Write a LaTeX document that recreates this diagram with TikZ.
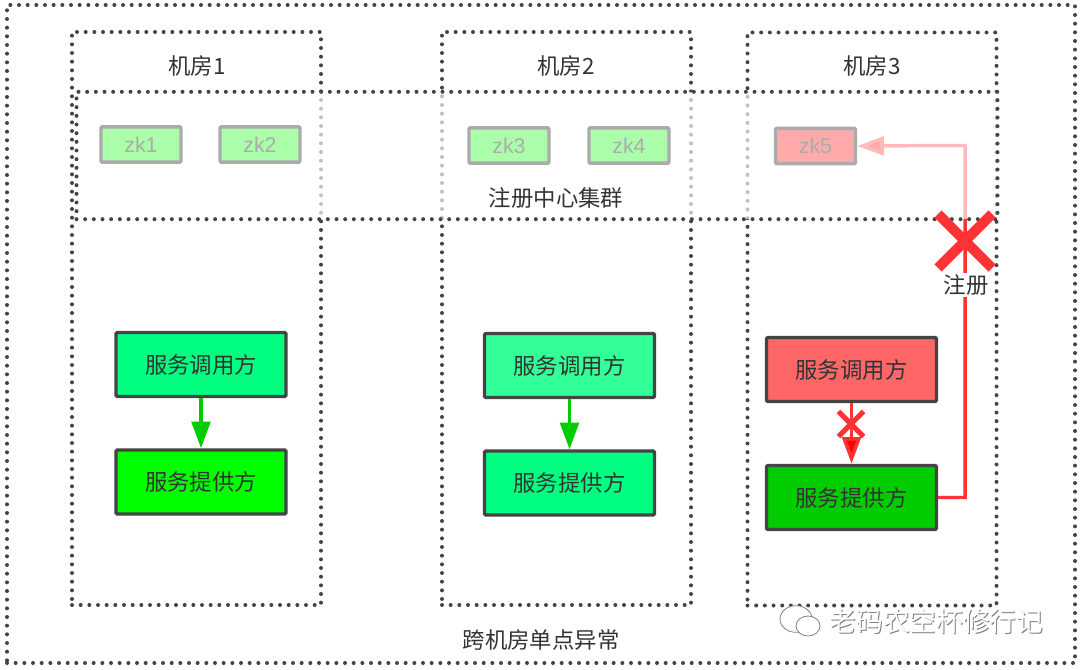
\documentclass[tikz,border=0pt]{standalone}
\usepackage{fontspec}
\usepackage{xcolor}
\usetikzlibrary{arrows.meta,shapes.misc,shapes.geometric}
\setmainfont{Noto Sans CJK SC}
\newfontfamily\zkfont{Liberation Sans}
\definecolor{inkdark}{HTML}{444444}
\definecolor{textdark}{HTML}{333333}
\definecolor{linegreen}{HTML}{00CC00}
\definecolor{linered}{HTML}{FF3333}
\definecolor{spring}{HTML}{00FF80}
\definecolor{springlight}{HTML}{33FF99}
\definecolor{callerred}{HTML}{FF6666}

\begin{document}
\begin{tikzpicture}[x=0.75pt,y=-0.75pt,
  dotline/.style={draw=inkdark,line width=3pt,line cap=round,dash pattern=on 0pt off 6.5pt},
  roomframe/.style={rectangle,dotline,minimum width=186.75pt,minimum height=429.75pt,inner sep=0pt},
  svcbox/.style={rectangle,draw=inkdark,line width=2.6pt,rounded corners=1pt,minimum width=127.5pt,minimum height=48pt,
    inner sep=0pt,font=\fontsize{16.8}{20}\selectfont,text=textdark},
  zkbox/.style={rectangle,draw=black,line width=2.6pt,rounded corners=1pt,minimum width=60pt,minimum height=26.5pt,
    inner sep=0pt,font=\zkfont\fontsize{16}{18}\selectfont,text=black},
  caption/.style={inner sep=0pt,font=\fontsize{16.8}{20}\selectfont,text=textdark},
  okarrow/.style={draw=linegreen,line width=2.6pt,-{Triangle[length=20pt,width=14pt]}},
  failarrow/.style={draw=linered,line width=2.6pt,-{Triangle[length=20pt,width=14pt,fill=red]}},
  crossmark/.style={cross out,draw=linered,inner sep=0pt},
  chatbubble/.style={ellipse,draw=gray,fill=white,line width=.6pt,inner sep=0pt}]
\useasboundingbox (0,0) rectangle (1080,670);
\node[rectangle,dotline,minimum width=801pt,minimum height=493.5pt] (campus) at (541,334) {};
\node[roomframe] (room1) at (196.5,318.5) {};
\node[roomframe] (room2) at (566.5,318.5) {};
\node[roomframe] (room3) at (872,319) {};
\node[caption] (name1) at (197,66) {机房1};
\node[caption] (name2) at (566,66) {机房2};
\node[caption] (name3) at (872,66) {机房3};
% zookeeper nodes, faded later by the cluster frame
\node[zkbox,fill=green] (zk1) at (141,144.5) {zk1};
\node[zkbox,fill=green] (zk2) at (260,144.5) {zk2};
\node[zkbox,fill=green] (zk3) at (509,145.5) {zk3};
\node[zkbox,fill=green] (zk4) at (629,145.5) {zk4};
\node[zkbox,fill=red] (zk5) at (815.5,146) {zk5};
% services
\node[svcbox,fill=spring] (caller1) at (201,364.5) {服务调用方};
\node[svcbox,fill=green] (provider1) at (201,482) {服务提供方};
\node[svcbox,fill=springlight] (caller2) at (569.5,365.5) {服务调用方};
\node[svcbox,fill=spring] (provider2) at (569.5,483) {服务提供方};
\node[svcbox,fill=callerred] (caller3) at (851.5,369.5) {服务调用方};
\node[svcbox,fill=linegreen] (provider3) at (851.5,497.5) {服务提供方};
\draw[okarrow] (caller1) -- (provider1);
\draw[okarrow] (caller2) -- (provider2);
\draw[failarrow] (caller3) -- (provider3);
\coordinate (turn) at (965,145.5);
\draw[failarrow] (provider3.east) -| (turn) -- (zk5.east);
% white veil over the top of the rooms
\node[rectangle,dotline,fill=white,fill opacity=.67,minimum width=690.75pt,minimum height=95.5pt,inner sep=0pt] (cluster) at (537,155.5) {};
\node[caption] (clustername) at (556,198) {注册中心集群};
\node[crossmark,line width=7.5pt,minimum size=33pt] (bigx) at (965,241) {};
\node[caption,fill=white,inner sep=1pt] (register) at (966,285) {注册};
\node[crossmark,line width=3.8pt,minimum size=15pt] (smallx) at (851,424) {};
\node[caption] (fault) at (541,640) {跨机房单点异常};
% watermark
\node[chatbubble,minimum width=24pt,minimum height=20pt] (chat1) at (796,619) {};
\node[chatbubble,minimum width=18pt,minimum height=15pt] (chat2) at (808,626) {};
\node[inner sep=0pt,font=\fontsize{20}{24}\selectfont,text=gray] (markshade) at (937.5,622.5) {老码农空杯修行记};
\node[inner sep=0pt,font=\fontsize{20}{24}\selectfont,text=white] (mark) at (936.5,621.5) {老码农空杯修行记};
\end{tikzpicture}
\end{document}
